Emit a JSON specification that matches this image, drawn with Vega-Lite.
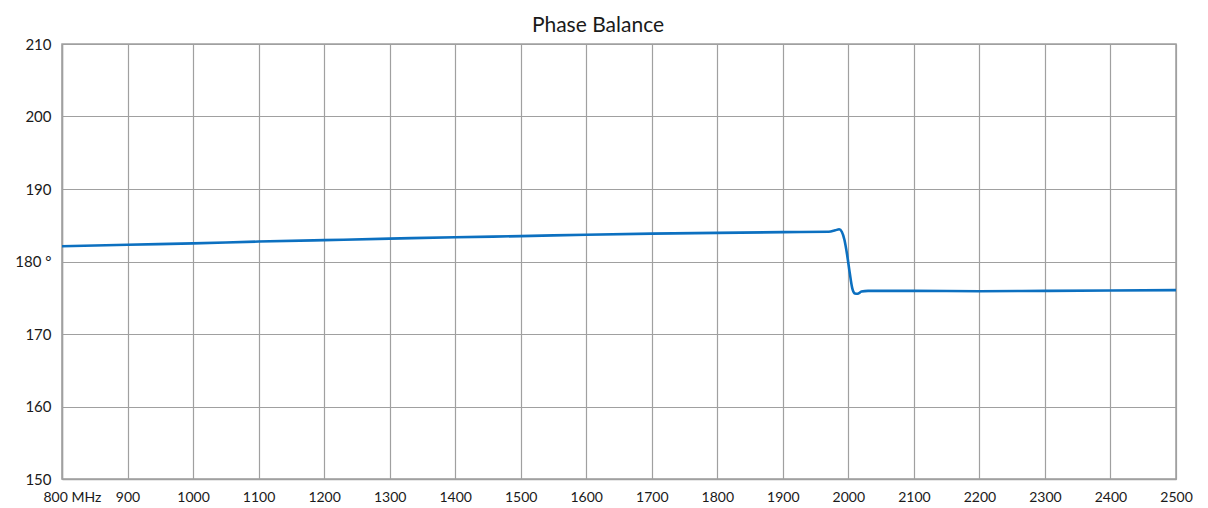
{
  "$schema": "https://vega.github.io/schema/vega-lite/v6.json",
  "width": 1114,
  "height": 435,
  "padding": {"left": 12, "top": 15, "right": 0, "bottom": 0},
  "background": "white",
  "title": {"text": "Phase Balance", "fontSize": 21, "font": "Lato", "fontWeight": "normal", "color": "#1a1a1a", "offset": 1, "dx": -21},
  "config": {"view": {"stroke": "#a0a0a0", "strokeWidth": 1.5}},
  "data": {"values": [
    {"f": 800, "p": 182.1},
    {"f": 900, "p": 182.3},
    {"f": 1000, "p": 182.5},
    {"f": 1100, "p": 182.75},
    {"f": 1200, "p": 182.95},
    {"f": 1300, "p": 183.15},
    {"f": 1400, "p": 183.35},
    {"f": 1500, "p": 183.5},
    {"f": 1600, "p": 183.7},
    {"f": 1700, "p": 183.85},
    {"f": 1800, "p": 183.95},
    {"f": 1900, "p": 184.05},
    {"f": 1970, "p": 184.1},
    {"f": 1980, "p": 184.3},
    {"f": 1986, "p": 184.45},
    {"f": 1990, "p": 184.1},
    {"f": 1994, "p": 183.0},
    {"f": 1998, "p": 181.0},
    {"f": 2002, "p": 178.5},
    {"f": 2006, "p": 176.3},
    {"f": 2010, "p": 175.6},
    {"f": 2014, "p": 175.55},
    {"f": 2020, "p": 175.85},
    {"f": 2030, "p": 175.95},
    {"f": 2100, "p": 175.95},
    {"f": 2200, "p": 175.9},
    {"f": 2300, "p": 175.95},
    {"f": 2400, "p": 176.0},
    {"f": 2500, "p": 176.05}
  ]},
  "mark": {"type": "line", "color": "#0c70c0", "strokeWidth": 2.6, "interpolate": "monotone"},
  "encoding": {
    "x": {
      "field": "f", "type": "quantitative",
      "scale": {"domain": [800, 2500], "nice": false, "zero": false},
      "axis": {
        "title": null,
        "values": [800, 900, 1000, 1100, 1200, 1300, 1400, 1500, 1600, 1700, 1800, 1900, 2000, 2100, 2200, 2300, 2400, 2500],
        "format": "d",
        "labelExpr": "datum.value == 800 ? '800 MHz' : datum.label",
        "labelFont": "Lato", "labelFontSize": 14, "labelColor": "#1a1a1a",
        "labelPadding": 11, "ticks": false,
        "labelOverlap": false, "labelFlush": false,
        "labelAlign": {"condition": {"test": "datum.value == 800", "value": "left"}, "value": "center"},
        "labelOffset": {"condition": {"test": "datum.value == 800", "value": -19}, "value": 0},
        "domainColor": "#a0a0a0", "domainWidth": 1.5,
        "gridColor": "#a0a0a0", "gridWidth": 1.2, "gridOpacity": 1
      }
    },
    "y": {
      "field": "p", "type": "quantitative",
      "scale": {"domain": [150, 210], "nice": false, "zero": false},
      "axis": {
        "title": null,
        "values": [150, 160, 170, 180, 190, 200, 210],
        "labelExpr": "datum.value == 180 ? '180 °' : datum.label",
        "labelFont": "Lato", "labelFontSize": 15, "labelColor": "#1a1a1a",
        "labelPadding": 11, "ticks": false,
        "minExtent": 50, "maxExtent": 50,
        "domainColor": "#a0a0a0", "domainWidth": 1.5,
        "gridColor": "#a0a0a0", "gridWidth": 1.2, "gridOpacity": 1
      }
    }
  }
}
